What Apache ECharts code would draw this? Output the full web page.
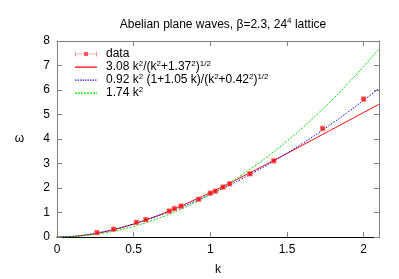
<!DOCTYPE html>
<html><head><meta charset="utf-8">
<script src="https://cdn.jsdelivr.net/npm/echarts@6/dist/echarts.min.js"></script>
<style>html,body{margin:0;padding:0;background:#fff}#c{width:399px;height:279px}</style>
</head><body><div id="c"></div>
<script>
// data points (k, omega)
const dataK = [0.261, 0.369, 0.518, 0.580, 0.732, 0.765, 0.809, 0.924, 1.000, 1.033, 1.083, 1.126, 1.259, 1.414, 1.732, 2.000];
const dataW = [0.18, 0.32, 0.60, 0.71, 1.06, 1.16, 1.26, 1.54, 1.79, 1.87, 2.04, 2.17, 2.58, 3.11, 4.43, 5.63];
// fit curves sampled at k = 0, 0.1, ..., 2.1
const curveK = [0,0.1,0.2,0.3,0.4,0.5,0.6,0.7,0.8,0.9,1.0,1.1,1.2,1.3,1.4,1.5,1.6,1.7,1.8,1.9,2.0,2.1];
const fitRed = [0,0.0224,0.0890,0.1977,0.3453,0.5280,0.7414,0.9810,1.2425,1.5220,1.8159,2.1212,2.4353,2.7561,3.0819,3.4113,3.7433,4.0769,4.4116,4.7467,5.0820,5.4172];
const fitBlue = [0,0.0236,0.0957,0.2110,0.3604,0.5371,0.7371,0.9581,1.1990,1.4594,1.7389,2.0374,2.3550,2.6916,3.0472,3.4219,3.8157,4.2286,4.6606,5.1118,5.5822,6.0718];
const fitGreen = [0,0.0174,0.0696,0.1566,0.2784,0.435,0.6264,0.8526,1.1136,1.4094,1.74,2.1054,2.5056,2.9406,3.4104,3.915,4.4544,5.0286,5.6376,6.2814,6.96,7.6734];
const xTicks = [0, 0.5, 1, 1.5, 2];
const yTicks = [0,1,2,3,4,5,6,7,8];

const zip = (a,b) => a.map((v,i)=>[v,b[i]]);
const FONT = 'Liberation Sans';
const chart = echarts.init(document.getElementById('c'), null, {renderer:'canvas'});
const sup = {fontSize: 8, fontFamily: FONT, fontWeight:'normal', color:'#000', padding:[0,0,7,0]};
const norm = {fontSize: 12, fontFamily: FONT, fontWeight:'normal', color:'#000'};
const labels = {
  data: '{n|data}',
  red: '{n|3.08 k}{s|2}{n|/(k}{s|2}{n|+1.37}{s|2}{n|)}{s|1/2}',
  blue: '{n|0.92 k}{s|2}{n| (1+1.05 k)/(k}{s|2}{n|+0.42}{s|2}{n|)}{s|1/2}',
  green: '{n|1.74 k}{s|2}'
};
// legend icon paths (22 x 8 box)
function dashPath(dash, gap) {
  let p = '';
  for (let x = 0; x < 22; x += dash + gap) {
    const w = Math.min(dash, 22 - x);
    p += 'M' + x + ',3.5h' + w + 'v1.2h-' + w + 'z';
  }
  return 'path://M0,0h0.01v0.01h-0.01zM22,8h0.01v0.01h-0.01z' + p;
}
const iconStyle = c => ({itemStyle:{color:c, borderWidth:0, borderColor:c}, lineStyle:{width:0, color:c}});
const gray = '#808080';
const mkX = (pos, show) => ({
  type:'value', min:0, max:2.1, interval:0.5, position:pos,
  axisLine:{show:true, onZero:false, lineStyle:{color: pos==='bottom' ? '#000' : gray, width:1}},
  axisTick:{show:true, inside:true, length:5, lineStyle:{color: gray}},
  splitLine:{show:false},
  axisLabel:{show:show, showMaxLabel:false, color:'#000', fontSize:12, fontFamily:FONT, margin:7},
  name: show ? 'k' : '', nameLocation:'middle', nameGap:27,
  nameTextStyle:{color:'#000', fontSize:12, fontFamily:FONT}
});
const mkY = (pos, show) => ({
  type:'value', min:0, max:8, interval:1, position:pos,
  axisLine:{show:true, onZero:false, lineStyle:{color: gray, width:1}},
  axisTick:{show:true, inside:true, length:5, lineStyle:{color: gray}},
  splitLine:{show:false},
  axisLabel:{show:show, color:'#000', fontSize:12, fontFamily:FONT, margin:7},
  name: show ? 'ω' : '', nameLocation:'middle', nameGap:33, nameRotate:0,
  nameTextStyle:{color:'#000', fontSize:12, fontFamily:FONT}
});
const option = {
  animation:false,
  backgroundColor:'#fff',
  title:{
    text:'{n|Abelian plane waves, β=2.3, 24}{s|4}{n| lattice}',
    left:218, textAlign:'center', top:12,
    textStyle:{fontWeight:'normal', rich:{n:norm, s:sup}}
  },
  grid:{left:57, right:20, top:41, bottom:42, containLabel:false, outerBoundsMode:'none'},
  xAxis:[mkX('bottom', true), mkX('top', false)],
  yAxis:[mkY('left', true), mkY('right', false)],
  legend:{
    orient:'vertical', left:70, top:43, itemWidth:22, itemHeight:8, itemGap:-0.5,
    selectedMode:false,
    data:[
      Object.assign({name:'data', icon:'path://M0,1.5h0.6v5h-0.6zM0,3.7h22v0.6h-22zM21.4,1.5h0.6v5h-0.6zM9,2h4v4h-4z'}, iconStyle('#ff3030')),
      Object.assign({name:'red', icon:dashPath(22, 0)}, iconStyle('#ff0000')),
      Object.assign({name:'blue', icon:dashPath(1.5, 1)}, iconStyle('#2020ff')),
      Object.assign({name:'green', icon:dashPath(2, 1)}, iconStyle('#00dd00'))
    ],
    formatter: n => labels[n],
    textStyle:{padding:[0,0,0,4], lineHeight:12, rich:{n:norm, s:sup}}
  },
  series:[
    {name:'data', type:'scatter', xAxisIndex:0, yAxisIndex:0, data:zip(dataK,dataW), symbol:'rect', symbolSize:4.5,
     itemStyle:{color:'#ff0000', borderColor:'#ff7070', borderWidth:0.8}, z:5},
    {name:'red', type:'line', data:zip(curveK,fitRed), smooth:true, showSymbol:false, symbol:'none',
     lineStyle:{color:'#ff0000', width:1}, itemStyle:{color:'#ff0000'}},
    {name:'blue', type:'line', data:zip(curveK,fitBlue), smooth:true, showSymbol:false, symbol:'none',
     lineStyle:{color:'#0000ff', width:1, type:[1.5,1.5]}, itemStyle:{color:'#0000ff'}},
    {name:'green', type:'line', data:zip(curveK,fitGreen), smooth:true, showSymbol:false, symbol:'none',
     lineStyle:{color:'#00dd00', width:1, type:[2,1.5]}, itemStyle:{color:'#00dd00'}}
  ]
};
chart.setOption(option);
</script></body></html>
